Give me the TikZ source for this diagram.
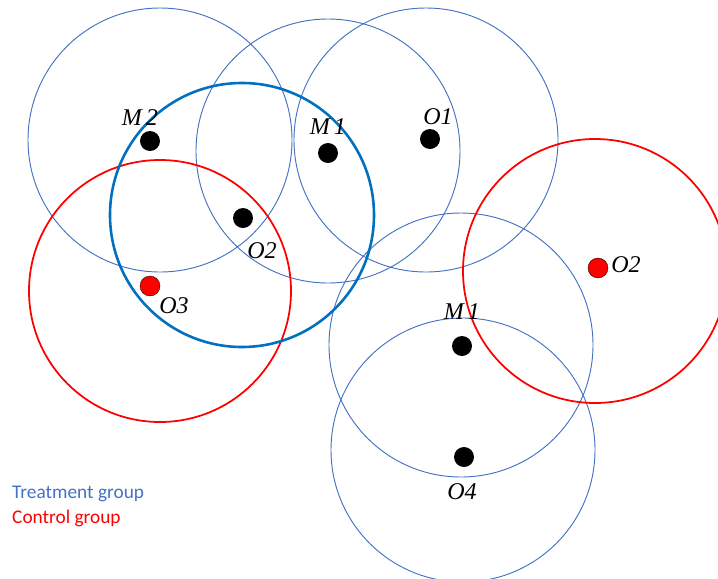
\documentclass[tikz,border=0pt]{standalone}
\usepackage{fontspec}
\setmainfont{Liberation Serif}
\newfontfamily\legendfont{Carlito}
\usepackage{xcolor}
\usetikzlibrary{positioning}
\definecolor{treatblue}{HTML}{4472C4}
\definecolor{boldblue}{HTML}{0070C0}
\definecolor{ctrlred}{HTML}{FF0000}

\begin{document}
\begin{tikzpicture}[x=0.03cm, y=-0.03cm, every node/.style={align=center}]
\tikzset{
  treat/.style={draw=treatblue, line width=0.8pt},
  focus/.style={draw=boldblue, line width=2.2pt},
  ctrl/.style={draw=ctrlred, line width=1.5pt},
  unit/.style={circle, fill=black, inner sep=0pt, minimum size=0.6cm},
  ctrlunit/.style={circle, fill=ctrlred, draw=black, line width=0.3pt, inner sep=0pt, minimum size=0.6cm},
  lbl/.style={inner sep=0pt, font=\fontsize{20.5}{24}\selectfont\itshape},
  legend/.style={anchor=west, inner sep=0pt, font=\legendfont\fontsize{16.5}{19}\selectfont}
}
\useasboundingbox (0,0) rectangle (718,578);
\clip (0,0) rectangle (718,578);
% neighbourhoods
\draw[treat] (160,140) circle[radius=132];
\draw[treat] (328,151) circle[radius=132];
\draw[treat] (426,140) circle[radius=132];
\draw[treat] (461,345) circle[radius=132];
\draw[treat] (463,450) circle[radius=132];
\draw[ctrl] (160,291) circle[radius=131];
\draw[ctrl] (595,271) circle[radius=132];
\draw[focus] (242,215) circle[radius=132];
% units
\node[unit] (m2) at (150,141) {};
\node[unit] (m1a) at (328,153) {};
\node[unit] (o1) at (430,139) {};
\node[unit] (o2a) at (243,218) {};
\node[ctrlunit] (o3) at (150,286) {};
\node[ctrlunit] (o2b) at (598,268) {};
\node[unit] (m1b) at (462,346) {};
\node[unit] (o4) at (464,457) {};
% labels
\node[lbl] (m2lbl) at (140,118) {M\,2};
\node[lbl] (m1albl) at (328,127) {M\,1};
\node[lbl] (o1lbl) at (438,117) {O1};
\node[lbl] (o2albl) at (262,251) {O2};
\node[lbl] (o3lbl) at (174,306) {O3};
\node[lbl] (o2blbl) at (626,265) {O2};
\node[lbl] (m1blbl) at (462,312) {M\,1};
\node[lbl] (o4lbl) at (462,492) {O4};
% legend
\node[legend, text=treatblue] (treatleg) at (12,494) {Treatment group};
\node[legend, text=ctrlred] (ctrlleg) at (12,518) {Control group};
\end{tikzpicture}
\end{document}
